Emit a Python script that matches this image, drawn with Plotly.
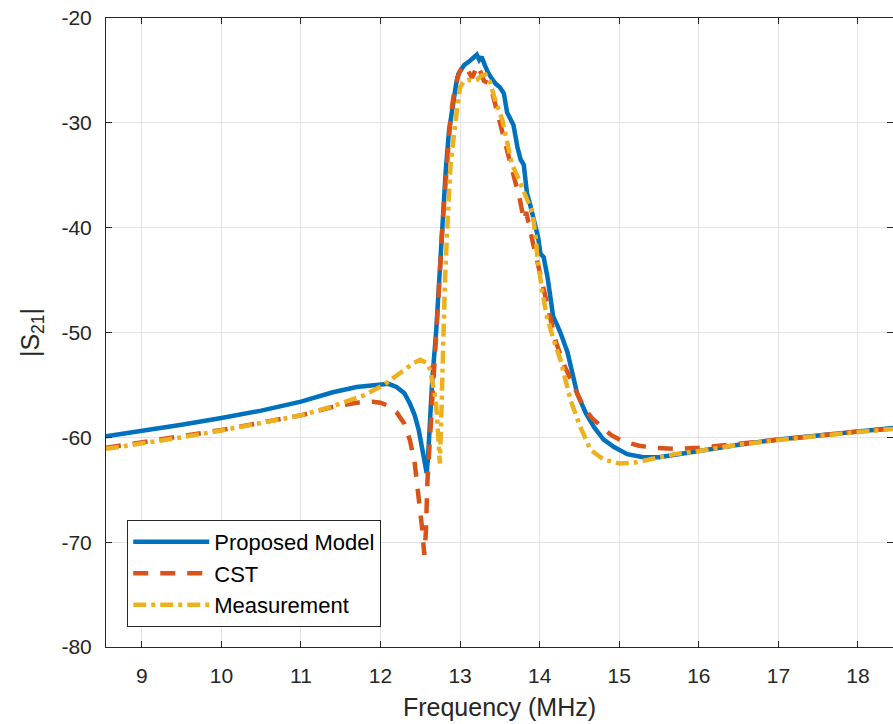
import plotly.graph_objects as go

# Proposed Model
model_f = [8.55, 9.0, 9.5, 10.0, 10.5, 11.0, 11.4, 11.7, 12.0, 12.1, 12.2, 12.3, 12.37, 12.43, 12.48,
           12.52, 12.56, 12.58, 12.6, 12.63, 12.65, 12.7, 12.74, 12.77, 12.82, 12.86, 12.9, 12.95, 12.98,
           13.05, 13.12, 13.18, 13.21, 13.24, 13.27, 13.31, 13.35, 13.4, 13.45, 13.5, 13.55, 13.59, 13.63,
           13.67, 13.72, 13.76, 13.8, 13.84, 13.88, 13.92, 13.98, 14.01, 14.05, 14.1, 14.17, 14.22, 14.26,
           14.35, 14.47, 14.58, 14.68, 14.8, 14.93, 15.1, 15.3, 15.5, 15.75, 16.0, 16.5, 17.0, 17.5, 18.0, 18.45]
model_s21 = [-59.9, -59.4, -58.8, -58.15, -57.45, -56.6, -55.7, -55.2, -54.9, -54.9, -55.2, -55.8, -56.8, -57.9, -59.3,
             -61.0, -63.1, -63.4, -61.5, -57.5, -54.5, -49.8, -44.5, -40.5, -34.5, -30.8, -28.5, -26.3, -25.3,
             -24.5, -24.1, -23.6, -23.5, -24.0, -23.7, -24.5, -25.2, -25.8, -26.3, -26.6, -27.2, -29.0, -29.5,
             -30.2, -32.3, -33.5, -34.0, -36.7, -37.8, -39.0, -40.9, -42.5, -42.8, -44.8, -48.5, -49.3, -50.0,
             -51.9, -55.8, -57.7, -59.0, -60.2, -60.9, -61.6, -61.9, -61.9, -61.6, -61.2, -60.7, -60.2, -59.8, -59.45, -59.1]

# CST
cst_f = [8.55, 9.0, 9.5, 10.0, 10.5, 11.0, 11.4, 11.7, 11.9, 12.0, 12.1, 12.2, 12.3, 12.37, 12.43, 12.48, 12.52,
         12.55, 12.57, 12.59, 12.63, 12.67, 12.7, 12.74, 12.78, 12.83, 12.88, 12.93, 12.97, 13.01, 13.05, 13.09,
         13.15, 13.19, 13.22, 13.26, 13.3, 13.35, 13.4, 13.46, 13.52, 13.6, 13.68, 13.75, 13.79, 13.81, 13.83,
         13.86, 13.92, 14.0, 14.1, 14.2, 14.3, 14.39, 14.47, 14.55, 14.66, 14.77, 14.9, 15.05, 15.25, 15.45,
         15.7, 16.0, 16.5, 17.0, 17.5, 18.0, 18.45]
cst_s21 = [-61.0, -60.5, -59.9, -59.3, -58.6, -57.9, -57.1, -56.7, -56.6, -56.7, -57.0, -57.6, -58.7, -60.3, -62.5, -65.7, -68.5,
           -71.2, -69.0, -64.1, -59.3, -54.5, -51.0, -45.0, -39.5, -34.0, -29.5, -26.8, -25.6, -24.9, -24.5, -24.9,
           -25.7, -25.0, -24.5, -25.2, -26.0, -26.2, -27.0, -28.8, -30.5, -33.0, -35.4, -37.3, -38.8, -39.3, -38.5,
           -39.6, -41.6, -44.2, -47.7, -50.8, -53.0, -54.5, -55.9, -57.1, -58.2, -59.0, -59.8, -60.4, -60.8, -61.0,
           -61.1, -61.0, -60.6, -60.2, -59.8, -59.45, -59.15]

# Measurement
meas_f = [8.55, 9.0, 9.5, 10.0, 10.5, 11.0, 11.37, 11.6, 11.79, 12.04, 12.29, 12.42, 12.5, 12.58, 12.62, 12.65,
          12.69, 12.71, 12.73, 12.745, 12.76, 12.77, 12.79, 12.81, 12.84, 12.88, 12.94, 13.0, 13.05, 13.1, 13.15,
          13.21, 13.27, 13.32, 13.37, 13.44, 13.53, 13.59, 13.65, 13.76, 13.85, 13.91, 13.95, 13.97, 14.03, 14.09,
          14.18, 14.26, 14.39, 14.51, 14.64, 14.8, 15.0, 15.2, 15.45, 15.7, 16.0, 16.5, 17.0, 17.5, 18.0, 18.45]
meas_s21 = [-61.1, -60.6, -60.0, -59.35, -58.65, -57.9, -57.1, -56.5, -56.0, -55.0, -53.6, -52.9, -52.6, -52.9, -53.5, -54.5,
            -56.2, -58.0, -62.0, -62.5, -59.0, -56.1, -49.8, -45.0, -39.9, -34.0, -30.0, -26.6, -26.0, -25.9, -26.0,
            -25.9, -25.5, -25.4, -26.0, -27.8, -29.7, -31.8, -33.9, -35.8, -37.4, -38.6, -40.9, -42.8, -46.0, -48.5,
            -50.8, -52.6, -56.5, -59.0, -61.2, -62.1, -62.5, -62.4, -62.0, -61.6, -61.3, -60.7, -60.25, -59.85, -59.5, -59.2]

x_ticks = [9, 10, 11, 12, 13, 14, 15, 16, 17, 18]
y_ticks = [-80, -70, -60, -50, -40, -30, -20]

FONT = "Liberation Sans, Arial, Helvetica, sans-serif"
INK = "#262626"

fig = go.Figure()
fig.add_trace(go.Scatter(x=model_f, y=model_s21, mode="lines", name="Proposed Model",
                         line=dict(color="#0072BD", width=4.5)))
fig.add_trace(go.Scatter(x=cst_f, y=cst_s21, mode="lines", name="CST",
                         line=dict(color="#D95319", width=4.5, dash="15px,12px")))
fig.add_trace(go.Scatter(x=meas_f, y=meas_s21, mode="lines", name="Measurement",
                         line=dict(color="#EDB120", width=4.5, dash="13px,5px,4px,5px")))

axis_common = dict(showline=True, linecolor=INK, linewidth=1, mirror="ticks", ticks="inside",
                   ticklen=6, tickcolor=INK, showgrid=True, gridcolor="#e3e3e3", gridwidth=1,
                   zeroline=False, tickfont=dict(family=FONT, size=21, color=INK))

fig.update_xaxes(range=[8.55, 18.44], tickvals=x_ticks, ticktext=[str(v) for v in x_ticks],
                 title=dict(text="Frequency (MHz)", font=dict(family=FONT, size=25, color=INK), standoff=12),
                 ticklabelstandoff=10, **axis_common)
fig.update_yaxes(range=[-80, -20], tickvals=y_ticks, ticktext=[str(v) for v in y_ticks],
                 title=dict(text="|S<sub>21</sub>|", font=dict(family=FONT, size=25, color=INK), standoff=14),
                 ticklabelstandoff=9, **axis_common)

fig.update_layout(
    width=893, height=724,
    margin=dict(l=106, r=0, t=18, b=77, pad=0),
    paper_bgcolor="white", plot_bgcolor="white",
    font=dict(family=FONT, color=INK),
    showlegend=True,
    legend=dict(x=0.027, y=0.032, xanchor="left", yanchor="bottom",
                bgcolor="white", bordercolor=INK, borderwidth=1,
                font=dict(family=FONT, size=22, color="#000000"),
                itemwidth=76, tracegroupgap=0),
)

fig.write_html("out.html")
